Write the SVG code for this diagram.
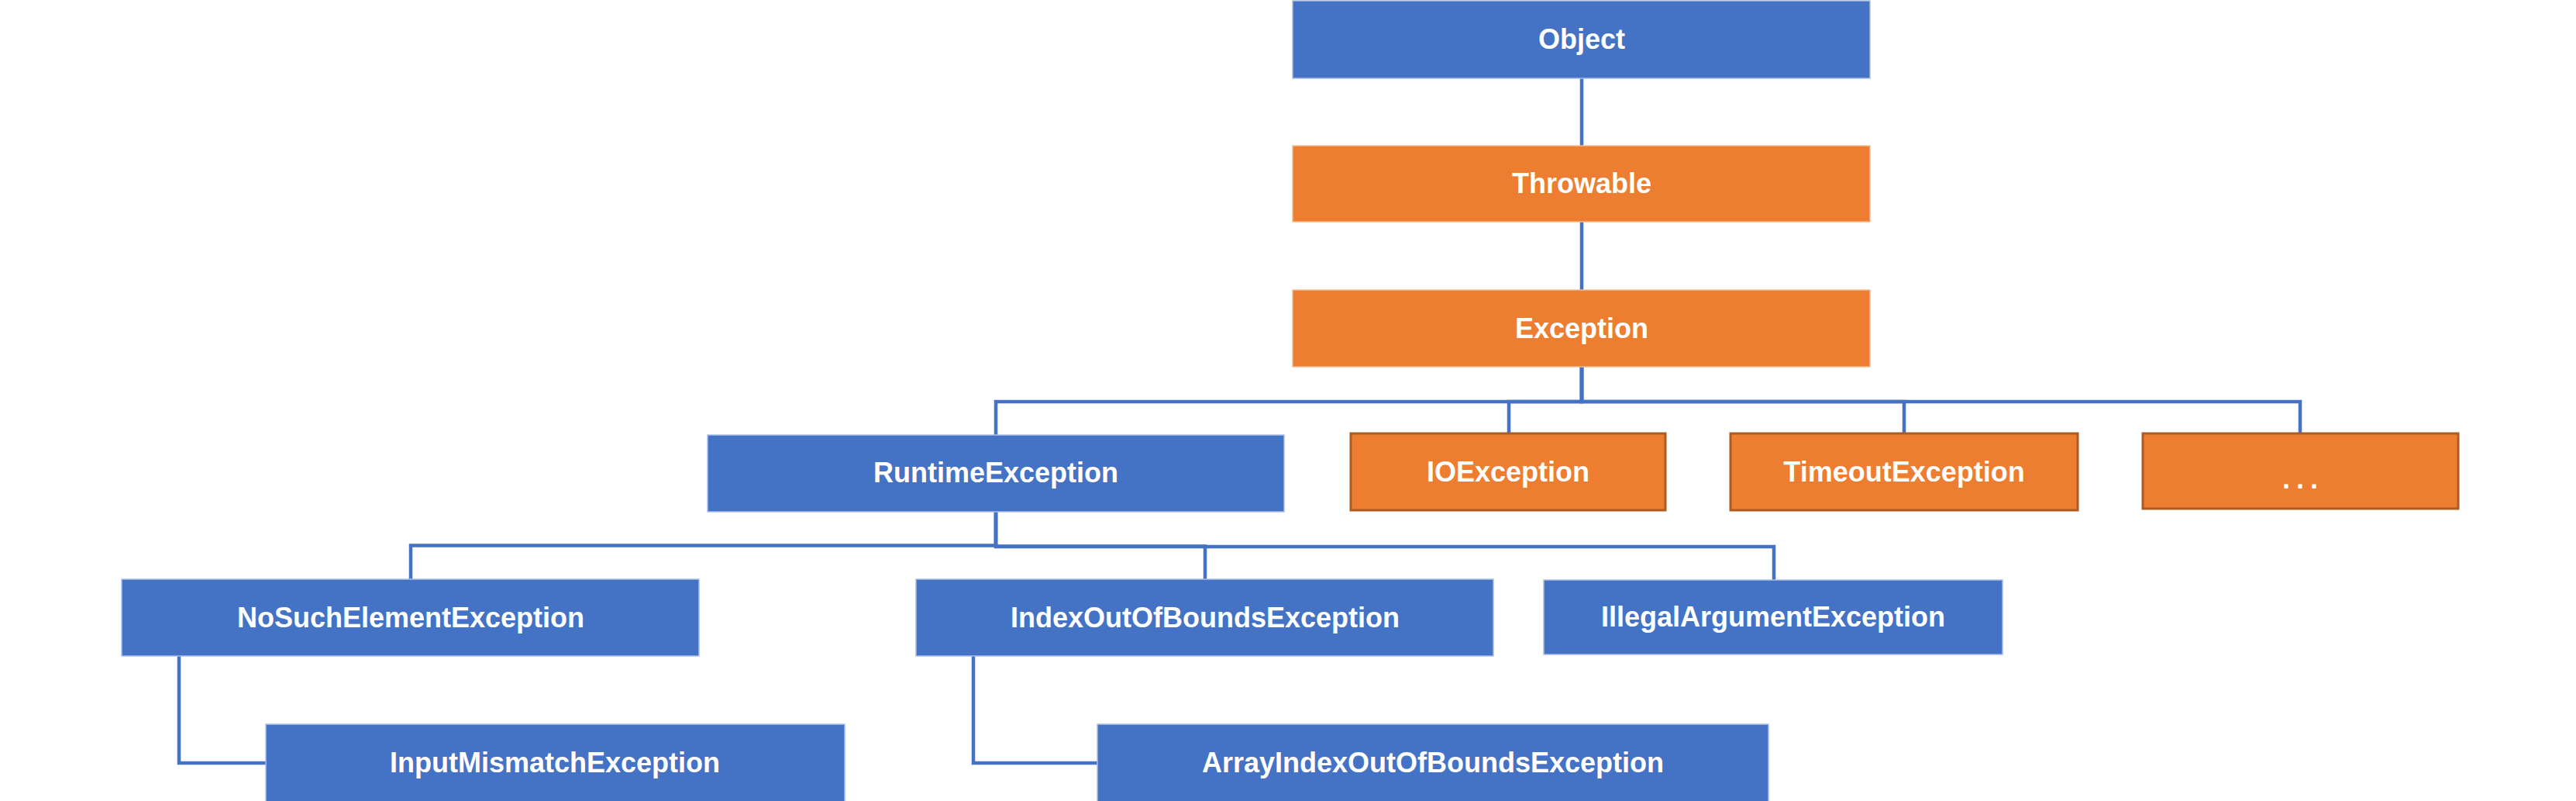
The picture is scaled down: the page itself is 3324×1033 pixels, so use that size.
<svg xmlns="http://www.w3.org/2000/svg" width="3324" height="1033" viewBox="0 0 3324 1033">
<style>
.blue{fill:#4472C4;stroke:#a9bfe6;stroke-width:1.5}
.orange{fill:#ED7D31;stroke:#f6b98c;stroke-width:1.5}
.orange2{fill:#ED7D31;stroke:#ae5a21;stroke-width:3}
.lbl{font-family:"Liberation Sans",Arial,sans-serif;font-weight:bold;font-size:36px;fill:#ffffff;text-anchor:middle}
.c{fill:none;stroke:#4472C4;stroke-width:4.5}
</style>
<rect width="3324" height="1033" fill="#ffffff"/>
<g id="connectors">
<path class="c" d="M2041,101 V188"/>
<path class="c" d="M2041,286 V374"/>
<path class="c" d="M2041,473 V518 H1285 V561"/>
<path class="c" d="M2041,473 V518 H1947 V559"/>
<path class="c" d="M2041,473 V518 H2457 V559"/>
<path class="c" d="M2041,473 V518 H2968 V559"/>
<path class="c" d="M1285,660 V703.5 H530 V747"/>
<path class="c" d="M1285,660 V704.5 H1555 V747"/>
<path class="c" d="M1285,660 V705 H2289 V748"/>
<path class="c" d="M231,846 V984 H343"/>
<path class="c" d="M1256,846 V984 H1416"/>
</g>
<g id="object"><rect class="blue" x="1668" y="1" width="745" height="100"/><text class="lbl" x="2041" y="63">Object</text></g>
<g id="throwable"><rect class="orange" x="1668" y="188" width="745" height="98"/><text class="lbl" x="2041" y="249">Throwable</text></g>
<g id="exception"><rect class="orange" x="1668" y="374" width="745" height="99"/><text class="lbl" x="2041" y="436">Exception</text></g>
<g id="runtime"><rect class="blue" x="913" y="561" width="744" height="99"/><text class="lbl" x="1285" y="622">RuntimeException</text></g>
<g id="io"><rect class="orange2" x="1743" y="559" width="406" height="99"/><text class="lbl" x="1946" y="621">IOException</text></g>
<g id="timeout"><rect class="orange2" x="2233" y="559" width="448" height="99"/><text class="lbl" x="2457" y="621">TimeoutException</text></g>
<g id="more"><rect class="orange2" x="2765" y="559" width="407" height="97"/><text class="lbl" x="2972" y="630" letter-spacing="8">...</text></g>
<g id="nosuch"><rect class="blue" x="157" y="747" width="745" height="99"/><text class="lbl" x="530" y="809">NoSuchElementException</text></g>
<g id="ioob"><rect class="blue" x="1182" y="747" width="745" height="99"/><text class="lbl" x="1555" y="809">IndexOutOfBoundsException</text></g>
<g id="illegal"><rect class="blue" x="1992" y="748" width="592" height="96"/><text class="lbl" x="2288" y="808">IllegalArgumentException</text></g>
<g id="inputmismatch"><rect class="blue" x="343" y="934" width="747" height="100"/><text class="lbl" x="716" y="996">InputMismatchException</text></g>
<g id="arrayioob"><rect class="blue" x="1416" y="934" width="866" height="100"/><text class="lbl" x="1849" y="996">ArrayIndexOutOfBoundsException</text></g>
</svg>
